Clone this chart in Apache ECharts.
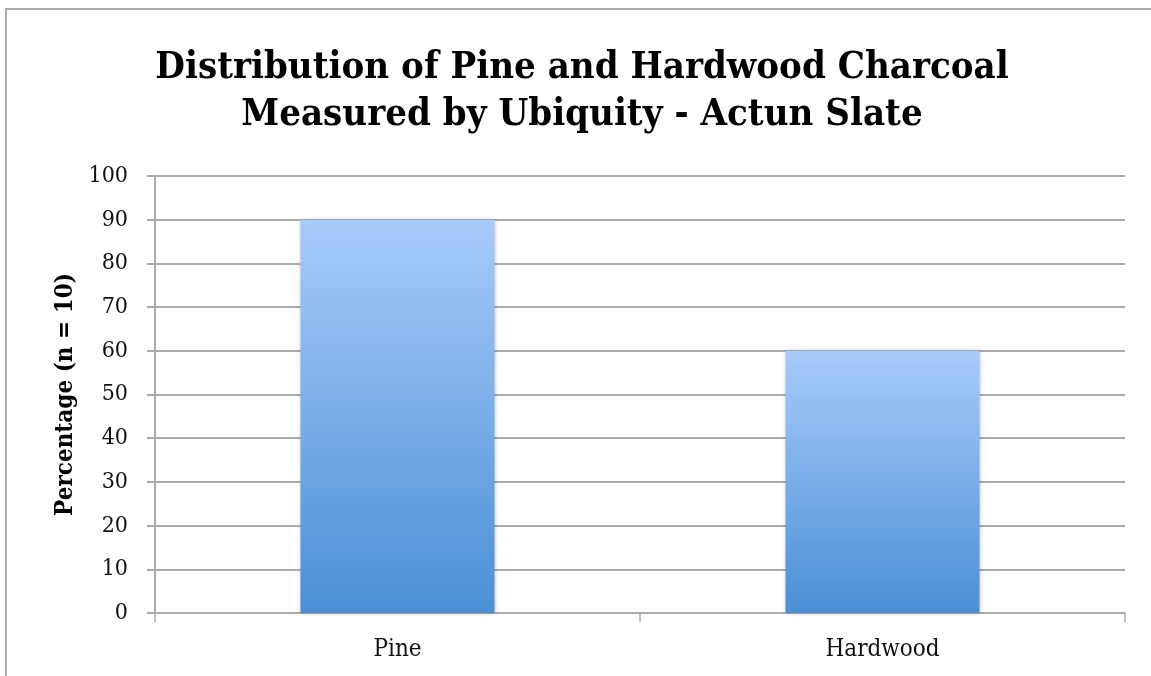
<!DOCTYPE html>
<html>
<head>
<meta charset="utf-8">
<style>
  html, body { margin: 0; padding: 0; background: #ffffff; }
  #chart { width: 1151px; height: 676px; }
</style>
<script src="https://cdn.jsdelivr.net/npm/echarts@6/dist/echarts.min.js"></script>
</head>
<body>
<div id="chart"></div>
<script>
// Charcoal types and their ubiquity (% of the 10 samples they appear in)
const categories = ['Pine', 'Hardwood'];
const ubiquity = [90, 60];
const titleLines = ['Distribution of Pine and Hardwood Charcoal', 'Measured by Ubiquity - Actun Slate'];
const yAxisName = 'Percentage (n = 10)';

const serif = '"DejaVu Serif Condensed", "Liberation Serif", serif';

const chart = echarts.init(document.getElementById('chart'), null, { renderer: 'canvas' });

const barGradient = new echarts.graphic.LinearGradient(0, 0, 0, 1, [
  { offset: 0, color: '#a7cbfb' },
  { offset: 1, color: '#4a8fd6' }
]);

chart.setOption({
  animation: false,
  backgroundColor: '#ffffff',
  graphic: [
    {
      // frame around the chart area
      type: 'polyline',
      shape: { points: [[6, 676], [6, 9], [1151, 9]] },
      style: { stroke: '#ababab', lineWidth: 2, fill: null },
      silent: true
    },
    {
      type: 'text',
      x: 582,
      y: 45,
      style: {
        text: titleLines.join('\n'),
        align: 'center',
        verticalAlign: 'top',
        font: 'bold 38px ' + serif,
        fill: '#000000',
        lineHeight: 47
      }
    }
  ],
  grid: { left: 155, right: 26, top: 176, bottom: 63, containLabel: false },
  xAxis: {
    type: 'category',
    data: categories,
    axisLine: { show: true, lineStyle: { color: '#ababab', width: 2 } },
    axisTick: { show: true, length: 9, alignWithLabel: false, lineStyle: { color: '#ababab', width: 1.5 } },
    axisLabel: { margin: 25, fontFamily: serif, fontSize: 24, color: '#111111' },
    splitLine: { show: false }
  },
  yAxis: {
    type: 'value',
    min: 0,
    max: 100,
    interval: 10,
    name: yAxisName,
    nameLocation: 'middle',
    nameRotate: 90,
    nameGap: 77,
    nameTextStyle: { fontFamily: serif, fontWeight: 'bold', fontSize: 24, color: '#000000' },
    axisLine: { show: true, lineStyle: { color: '#ababab', width: 2 } },
    axisTick: { show: true, length: 8, lineStyle: { color: '#ababab', width: 2 } },
    axisLabel: { margin: 27, fontFamily: serif, fontSize: 23, color: '#111111' },
    splitLine: { show: true, lineStyle: { color: '#ababab', width: 2 } }
  },
  series: [
    {
      type: 'bar',
      data: ubiquity,
      barWidth: '40%',
      itemStyle: {
        color: barGradient,
        shadowBlur: 4,
        shadowColor: 'rgba(0,0,0,0.25)',
        shadowOffsetX: 0,
        shadowOffsetY: 0
      }
    }
  ]
});
</script>
</body>
</html>
